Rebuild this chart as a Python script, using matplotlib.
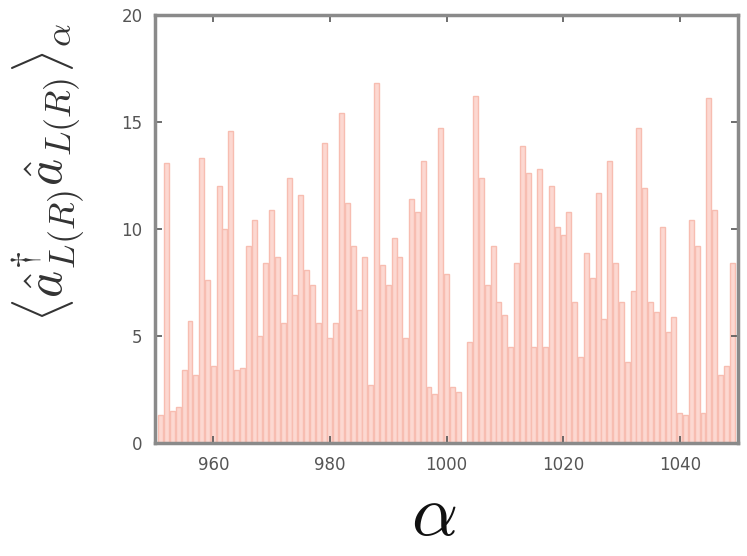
#!/usr/bin/env python3
# -*- coding: utf-8 -*-
"""occupation <a^dag a>_alpha per mode alpha, pink bar chart."""
import numpy as np
import matplotlib; matplotlib.use("Agg"); import matplotlib.pyplot as plt

plt.rcParams["mathtext.fontset"] = "cm"

alpha = np.arange(951, 1050)
occ = [1.3, 13.1, 1.5, 1.7, 3.4, 5.7, 3.2, 13.3, 7.6, 3.6,
       12.0, 10.0, 14.6, 3.4, 3.5, 9.2, 10.4, 5.0, 8.4, 10.9,
       8.7, 5.6, 12.4, 6.9, 11.6, 8.1, 7.4, 5.6, 14.0, 4.9,
       5.6, 15.4, 11.2, 9.2, 6.2, 8.7, 2.7, 16.8, 8.3, 7.4,
       9.6, 8.7, 4.9, 11.4, 10.8, 13.2, 2.6, 2.3, 14.7, 7.9,
       2.6, 2.4, 0.0, 4.7, 16.2, 12.4, 7.4, 9.2, 6.6, 6.0,
       4.5, 8.4, 13.9, 12.6, 4.5, 12.8, 4.5, 12.0, 10.1, 9.7,
       10.8, 6.6, 4.0, 8.9, 7.7, 11.7, 5.8, 13.2, 8.4, 6.6,
       3.8, 7.1, 14.7, 11.9, 6.6, 6.1, 10.1, 5.2, 5.9, 1.4,
       1.3, 10.4, 9.2, 1.4, 16.1, 10.9, 3.2, 3.6, 8.4]
xticks = [960, 980, 1000, 1020, 1040]
yticks = [0, 5, 10, 15, 20]

fig = plt.figure(figsize=(7.47, 5.56), dpi=100)
ax = fig.add_axes([155/747, 1-443/556, (738-155)/747, (443-15)/556])
ax.bar(alpha, occ, width=0.85, color="#fcd8d1", edgecolor="#f7bdb1", lw=1.0)
ax.set_xlim(950, 1050); ax.set_ylim(0, 20)
ax.set_xticks(xticks); ax.set_yticks(yticks)
for s in ax.spines.values():
    s.set_color("#8a8a8a"); s.set_linewidth(2.5)
ax.tick_params(direction="in", top=True, right=True, length=5, width=1.2,
               color="#555555", labelcolor="#555555", labelsize=12, pad=9)
fig.text(434/747, 1-516/556, r"$\alpha$", fontsize=52,
         ha="center", va="center", color="#111111")
fig.text(48/747, 1-172/556,
         r"$\langle\hat{a}^{\dagger}_{L(R)}\hat{a}_{L(R)}\rangle_{\alpha}$",
         fontsize=37, rotation=90, ha="center", va="center", color="#333333")
fig.savefig("out.png", dpi=100)
